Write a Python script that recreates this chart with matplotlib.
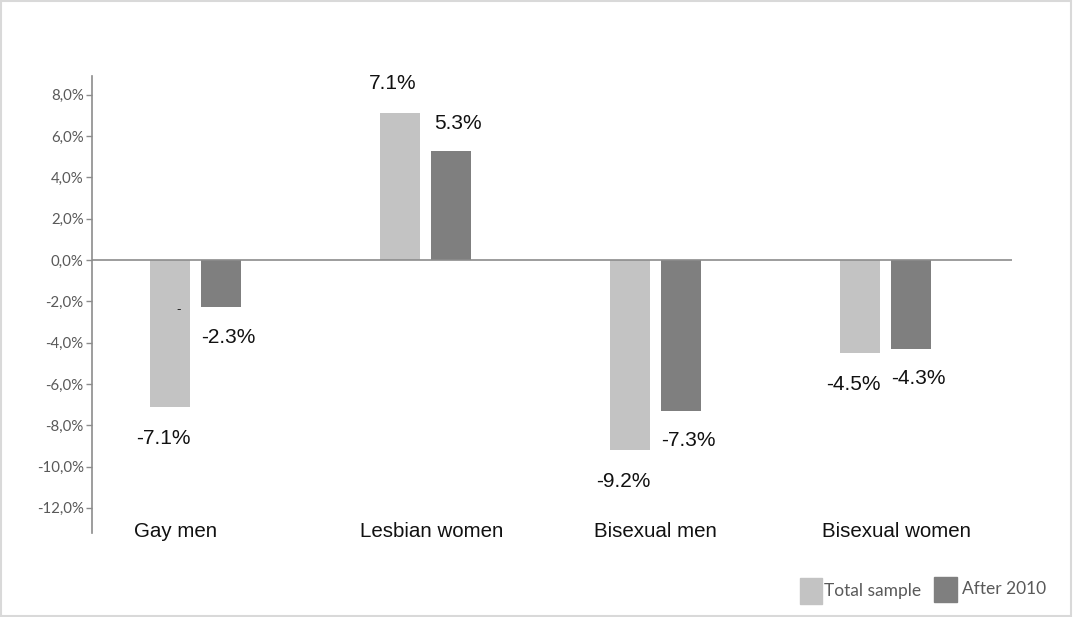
import numpy as np
import matplotlib.pyplot as plt
from matplotlib.patches import Rectangle
from matplotlib.transforms import blended_transform_factory

# -----------------------------
# DATA
# -----------------------------
categories = ["Gay men", "Lesbian women", "Bisexual men", "Bisexual women"]
total_sample = [-7.1, 7.1, -9.2, -4.5]
after_2010 = [-2.3, 5.3, -7.3, -4.3]
series_names = ["Total sample", "After 2010"]
y_ticks = [8, 6, 4, 2, 0, -2, -4, -6, -8, -10, -12]

LIGHT = "#c3c3c3"
DARK = "#7f7f7f"
AXIS_GREY = "#8c8c8c"
TICK_TEXT = "#595959"

# -----------------------------
# FIGURE
# -----------------------------
fig = plt.figure(figsize=(10.73, 6.17), dpi=100)
ax = fig.add_axes([92 / 1073, 1 - 533 / 617, 920 / 1073, 457 / 617])

x = np.arange(len(categories))
w = 0.174
light_x = x - 0.161
dark_x = x + 0.061

ax.bar(light_x, total_sample, width=w, color=LIGHT)
ax.bar(dark_x, after_2010, width=w, color=DARK)

ax.set_xlim(-0.5, 3.5)
ax.set_ylim(-13.22, 8.91)
ax.axhline(0, color=AXIS_GREY, lw=1.2, zorder=3)

for s in ["top", "right", "bottom"]:
    ax.spines[s].set_visible(False)
ax.spines["left"].set_color(AXIS_GREY)
ax.spines["left"].set_linewidth(1.2)

ax.set_xticks([])
ax.set_yticks(y_ticks)
ax.set_yticklabels([f"{v:.1f}".replace(".", ",") + "%" for v in y_ticks],
                   family="Lato", fontsize=10.8, color=TICK_TEXT)
ax.tick_params(axis="y", length=4, width=1, color=AXIS_GREY, pad=2)

# category labels sit inside the plot near the bottom
label_shift = [-0.135, -0.025, -0.05, 0.0]
trans = blended_transform_factory(ax.transData, ax.transAxes)
for xi, name, sh in zip(x, categories, label_shift):
    ax.text(xi + sh, 0.004, name, transform=trans, ha="center", va="center",
            family="Liberation Sans", fontsize=14.8, color="#111111")

# value labels
def pct(v):
    return f"{v:.1f}%"

for xi, v in zip(light_x, total_sample):
    off = 30 if v > 0 else -32
    ax.annotate(pct(v), (xi, v), xytext=(-5, off * 0.72), textcoords="offset points",
                ha="center", va="center", family="Liberation Sans", fontsize=15,
                color="#111111")
for xi, v in zip(dark_x, after_2010):
    off = 27 if v > 0 else -30
    ax.annotate(pct(v), (xi, v), xytext=(5, off * 0.72), textcoords="offset points",
                ha="center", va="center", family="Liberation Sans", fontsize=15,
                color="#111111")

# stray dash inside the first bar
ax.annotate("-", (light_x[0], -2.4), xytext=(6, 0), textcoords="offset points",
            ha="center", va="center", fontsize=9, color="#222222")

# legend drawn as boxes + text in figure pixels
def fx(px):
    return px / 1073

def fy(py):
    return 1 - py / 617

fig.patches.append(Rectangle((fx(800), fy(604)), 22 / 1073, 26 / 617,
                             transform=fig.transFigure, color=LIGHT))
fig.text(fx(824), fy(591), series_names[0], family="Lato", fontsize=12.5,
         color=TICK_TEXT, va="center", ha="left")
fig.patches.append(Rectangle((fx(934), fy(602)), 23 / 1073, 25 / 617,
                             transform=fig.transFigure, color=DARK))
fig.text(fx(962), fy(589), series_names[1], family="Lato", fontsize=12.5,
         color=TICK_TEXT, va="center", ha="left")

# outer border
fig.patches.append(Rectangle((0.001, 0.002), 0.997, 0.996, transform=fig.transFigure,
                             fill=False, edgecolor="#d9d9d9", lw=1.5))

fig.savefig("out.png", dpi=100)
